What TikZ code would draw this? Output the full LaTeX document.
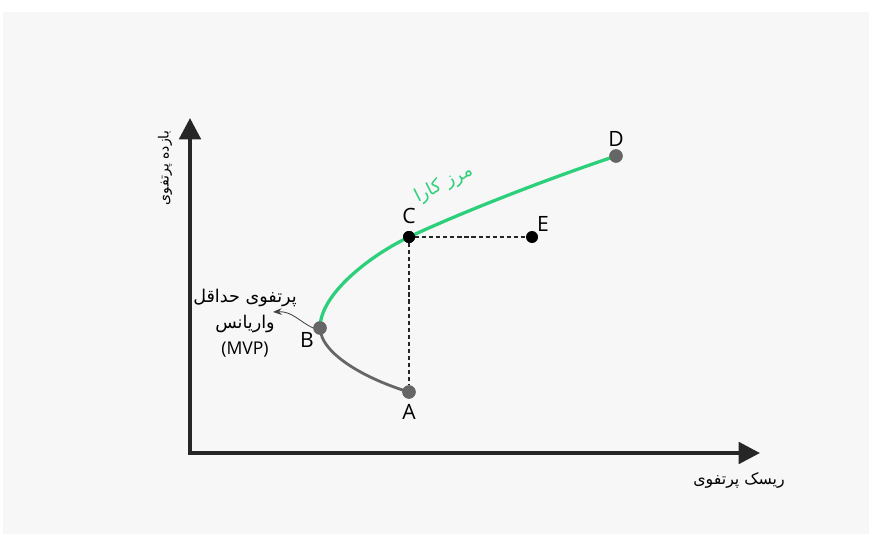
\documentclass[tikz,border=0pt]{standalone}
\usepackage{fontspec}
\usepackage{xcolor}
\usepackage{tikz}
\usetikzlibrary{arrows.meta}
\setmainfont{Open Sans}
\newfontfamily\persianfont[Script=Arabic]{DejaVu Sans}
\TeXXeTstate=1
\definecolor{frontiergreen}{HTML}{2DD07A}
\definecolor{dotgray}{HTML}{666666}
\definecolor{panelgray}{HTML}{F7F7F7}

\begin{document}
\begin{tikzpicture}[
    x=0.03cm, y=-0.03cm,
    axis/.style={line width=3.4pt, color=black!85,
                 {Triangle[length=0.64cm, width=0.64cm]}-{Triangle[length=0.64cm, width=0.64cm]}},
    point/.style={circle, fill=dotgray, inner sep=0pt, minimum size=0.40cm},
    blackpoint/.style={point, fill=black, minimum size=0.36cm},
    letter/.style={font=\fontsize{18}{20}\selectfont},
    frontier/.style={line width=2.8pt, color=frontiergreen},
    lowerpart/.style={line width=2.4pt, color=dotgray},
    guide/.style={line width=0.9pt, dash pattern=on 3.5pt off 2.5pt, color=black!85},
    mvparrow/.style={line width=0.7pt, color=black!75, -{Stealth[length=0.26cm, width=0.2cm]}}
]
\fill[white] (0,0) rectangle (869,534);
\fill[panelgray] (3,12) rectangle (869,534);
\useasboundingbox (0,0) rectangle (869,534);

\coordinate (ytip) at (190,118);
\coordinate (xtip) at (760,453);
\draw[axis] (ytip) |- (xtip);

\node[rotate=90, font=\persianfont\fontsize{12}{14}\selectfont] (ylabel) at (165,168) {\beginR بازده پرتفوی\endR};
\node[font=\persianfont\fontsize{13.5}{15}\selectfont] (xlabel) at (739,480) {\beginR ریسک پرتفوی\endR};

\node[point] (A) at (409,392) {};
\node[point] (B) at (320,328) {};
\node[blackpoint] (C) at (409,237) {};
\node[point] (D) at (616,156) {};
\node[blackpoint] (E) at (532,237) {};

\draw[guide] (C) -- (E);
\draw[guide] (C) -- (A);

\draw[frontier] (B.center) .. controls (320,293) and (373,254) .. (C.center)
                .. controls (469,209) and (556,176) .. (D.center);
\draw[lowerpart] (B.center) .. controls (321,355) and (369,380) .. (A.center);

\node[point] at (B) {};
\node[point] at (A) {};
\node[point] at (D) {};
\node[blackpoint] at (C) {};

\node[letter] (labelA) at (409,412) {A};
\node[letter] (labelB) at (307,340) {B};
\node[letter] (labelC) at (409,216) {C};
\node[letter] (labelD) at (616,139) {D};
\node[letter] (labelE) at (543,224) {E};

\node[rotate=27, color=frontiergreen, font=\persianfont\fontsize{15.5}{17}\selectfont] (frontierlabel) at (444,184) {\beginR مرز کارا\endR};

\node[align=center, font=\fontsize{15}{22}\selectfont] (mvp) at (245,323)
    {{\persianfont\beginR پرتفوی حداقل\endR}\\{\persianfont\beginR واریانس\endR}\\(MVP)};
\coordinate (mvptip) at (273,312);
\draw[mvparrow] (B.west) .. controls (300,322) and (292,311) .. (mvptip);
\end{tikzpicture}
\end{document}
